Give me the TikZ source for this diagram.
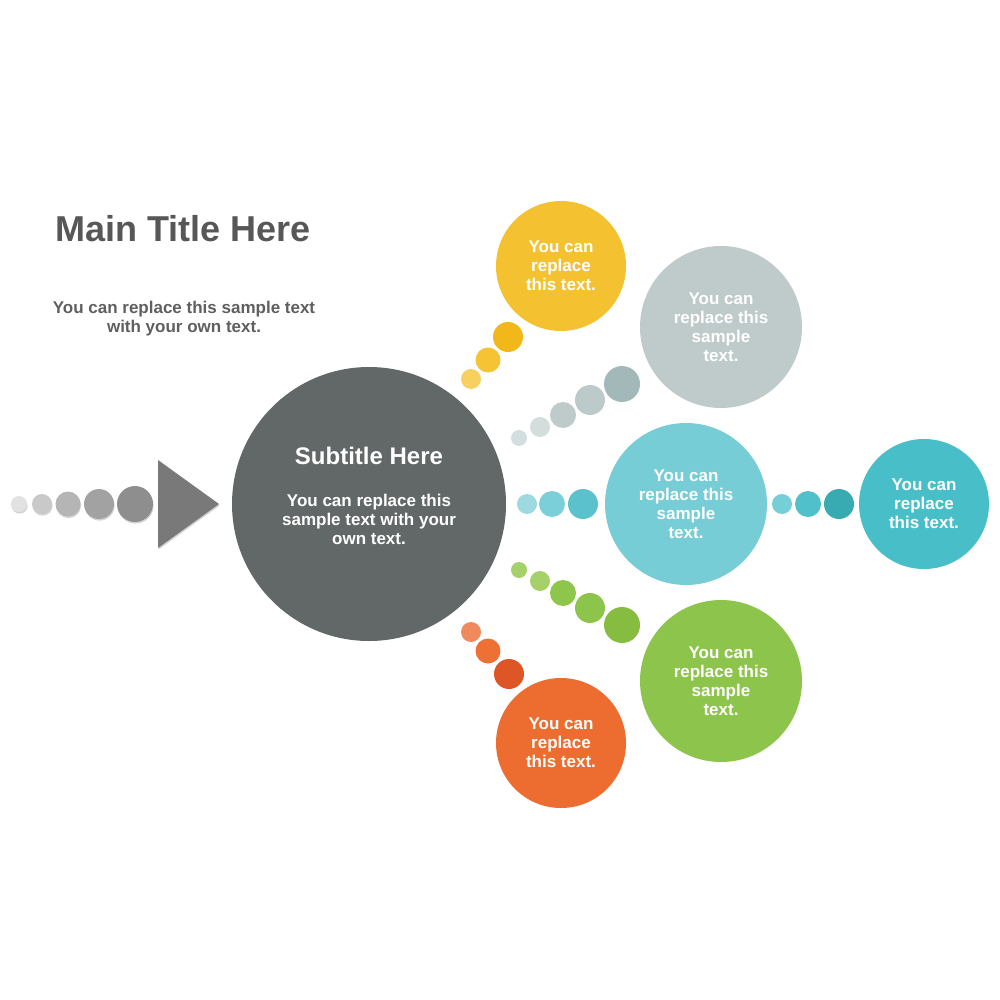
\documentclass[tikz,border=0pt]{standalone}
\usepackage{fontspec}
\setmainfont{Liberation Sans}
\usetikzlibrary{shadows}

\definecolor{titlegray}{HTML}{575757}
\definecolor{hubgray}{HTML}{626867}
\definecolor{sun}{HTML}{F4C231}
\definecolor{mist}{HTML}{BFCBCA}
\definecolor{aqua}{HTML}{76CDD6}
\definecolor{teal}{HTML}{48BFC8}
\definecolor{leaf}{HTML}{8DC44B}
\definecolor{ember}{HTML}{EC6D2F}

\begin{document}
\begin{tikzpicture}[
      x=1pt, y=-1pt,
      bubble/.style={circle, inner sep=0pt, minimum size=#1, text=white, align=center},
      dot/.style={circle, inner sep=0pt, minimum size=#1},
      shade/.style={drop shadow={shadow xshift=0.6pt, shadow yshift=-1.6pt, opacity=0.35}},
      every node/.style={font=\bfseries\fontsize{17}{19}\selectfont}]

      \useasboundingbox (0,0) rectangle (1000,1000);

      % title block
      \node[text=titlegray, font=\bfseries\fontsize{36}{40}\selectfont] (title) at (183,229) {Main Title Here};
      \node[text=titlegray!95, align=center] (intro) at (184,319) {You can replace this sample text\\with your own text.};

      % incoming gray dots and arrow head
      \foreach \i/\x/\d/\c in {1/19/16/E2E2E2, 2/42/20/C9C9C9, 3/68/25/B5B5B5, 4/99/30/A2A2A2, 5/135/36/8E8E8E}{
        \definecolor{dotcol}{HTML}{\c}
        \node[dot=\d pt, fill=dotcol, shade] (in\i) at (\x,504) {};
      }
      \coordinate (tipA) at (158,460);
      \coordinate (tipB) at (219,504);
      \coordinate (tipC) at (158,548);
      \fill[gray!95!black, shade] (tipA) -- (tipB) -- (tipC) -- cycle;

      % hub
      \node[bubble=274pt, fill=hubgray] (hub) at (369,504) {};
      \node[text=white, font=\bfseries\fontsize{24}{28}\selectfont] (subtitle) at (369,456) {Subtitle Here};
      \node[text=white, align=center] (hubtext) at (369,519) {You can replace this\\sample text with your\\own text.};

      % outer bubbles
      \node[bubble=130pt, fill=sun] (yellow) at (561,266) {You can\\replace\\this text.};
      \node[bubble=162pt, fill=mist] (silver) at (721,327) {You can\\replace this\\sample\\text.};
      \node[bubble=162pt, fill=aqua] (cyan) at (686,504) {You can\\replace this\\sample\\text.};
      \node[bubble=130pt, fill=teal] (far) at (924,504) {You can\\replace\\this text.};
      \node[bubble=162pt, fill=leaf] (green) at (721,681) {You can\\replace this\\sample\\text.};
      \node[bubble=130pt, fill=ember] (orange) at (561,743) {You can\\replace\\this text.};

      % dot chains
      \foreach \i/\x/\y/\d/\c in {1/471/379/20/F8D060, 2/488/360/25/F5C334, 3/508/337/30/F2B81A}{
        \definecolor{dotcol}{HTML}{\c}
        \node[dot=\d pt, fill=dotcol] (y\i) at (\x,\y) {};
      }
      \foreach \i/\x/\y/\d/\c in {1/519/438/16/D5DEDE, 2/540/427/20/D3DDDC, 3/563/415/26/BFCBCA, 4/590/400/30/BDCACA, 5/622/384/36/A3B8B8}{
        \definecolor{dotcol}{HTML}{\c}
        \node[dot=\d pt, fill=dotcol] (s\i) at (\x,\y) {};
      }
      \foreach \i/\x/\d/\c in {1/527/20/9FD9E0, 2/552/26/7BCFD8, 3/583/30/5BC2CD}{
        \definecolor{dotcol}{HTML}{\c}
        \node[dot=\d pt, fill=dotcol] (c\i) at (\x,504) {};
      }
      \foreach \i/\x/\d/\c in {1/782/20/76CFD6, 2/808/26/50C0CA, 3/839/30/37AAB2}{
        \definecolor{dotcol}{HTML}{\c}
        \node[dot=\d pt, fill=dotcol] (t\i) at (\x,504) {};
      }
      \foreach \i/\x/\y/\d/\c in {1/519/570/16/A6D16A, 2/540/581/20/A6D16A, 3/563/593/26/8EC64B, 4/590/608/30/8DC44B, 5/622/625/36/86BC40}{
        \definecolor{dotcol}{HTML}{\c}
        \node[dot=\d pt, fill=dotcol] (g\i) at (\x,\y) {};
      }
      \foreach \i/\x/\y/\d/\c in {1/471/632/20/F08A5D, 2/488/651/25/EE7035, 3/509/674/30/DE5626}{
        \definecolor{dotcol}{HTML}{\c}
        \node[dot=\d pt, fill=dotcol] (o\i) at (\x,\y) {};
      }
\end{tikzpicture}
\end{document}
